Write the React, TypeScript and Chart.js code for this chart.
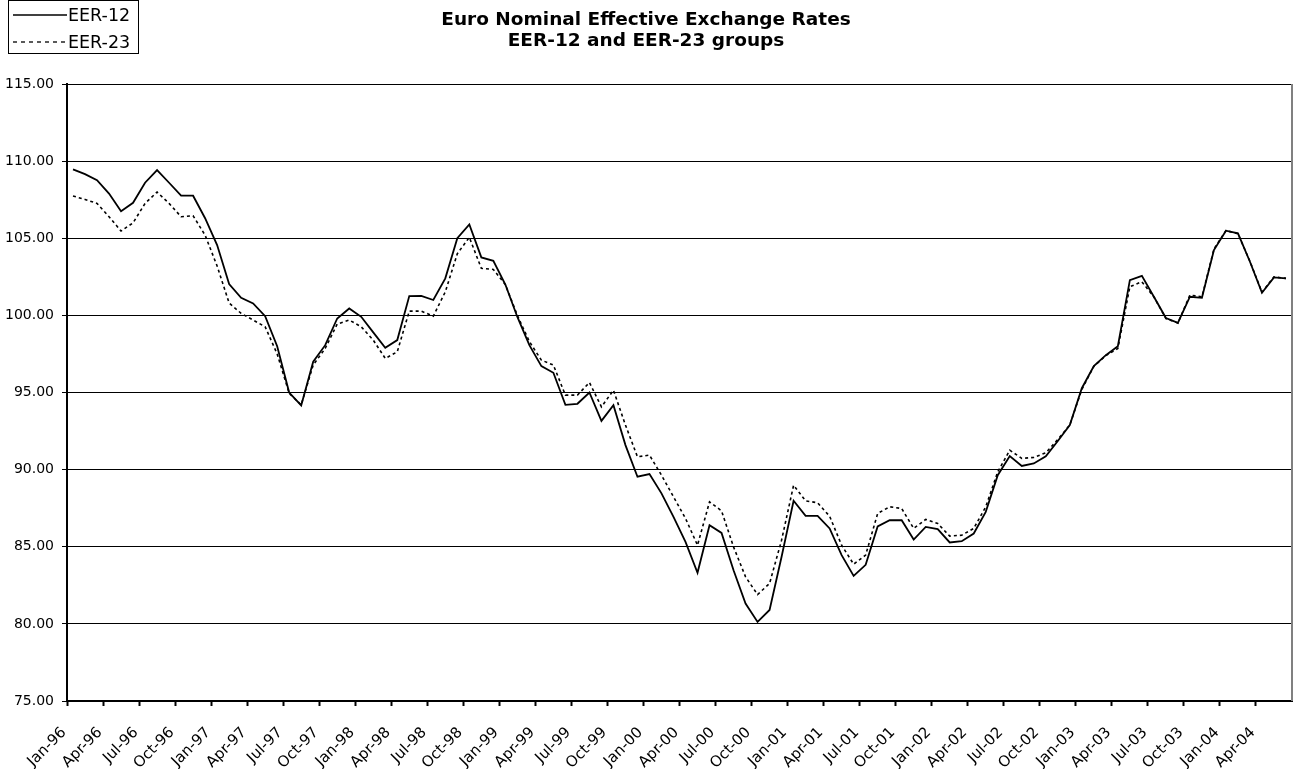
import React, { useEffect, useRef } from 'react';
import { Chart, registerables } from 'chart.js';

Chart.register(...registerables);

const categories: string[] = [
  'Jan-96', 'Feb-96', 'Mar-96', 'Apr-96', 'May-96', 'Jun-96', 'Jul-96', 'Aug-96', 'Sep-96', 'Oct-96', 'Nov-96', 'Dec-96',
  'Jan-97', 'Feb-97', 'Mar-97', 'Apr-97', 'May-97', 'Jun-97', 'Jul-97', 'Aug-97', 'Sep-97', 'Oct-97', 'Nov-97', 'Dec-97',
  'Jan-98', 'Feb-98', 'Mar-98', 'Apr-98', 'May-98', 'Jun-98', 'Jul-98', 'Aug-98', 'Sep-98', 'Oct-98', 'Nov-98', 'Dec-98',
  'Jan-99', 'Feb-99', 'Mar-99', 'Apr-99', 'May-99', 'Jun-99', 'Jul-99', 'Aug-99', 'Sep-99', 'Oct-99', 'Nov-99', 'Dec-99',
  'Jan-00', 'Feb-00', 'Mar-00', 'Apr-00', 'May-00', 'Jun-00', 'Jul-00', 'Aug-00', 'Sep-00', 'Oct-00', 'Nov-00', 'Dec-00',
  'Jan-01', 'Feb-01', 'Mar-01', 'Apr-01', 'May-01', 'Jun-01', 'Jul-01', 'Aug-01', 'Sep-01', 'Oct-01', 'Nov-01', 'Dec-01',
  'Jan-02', 'Feb-02', 'Mar-02', 'Apr-02', 'May-02', 'Jun-02', 'Jul-02', 'Aug-02', 'Sep-02', 'Oct-02', 'Nov-02', 'Dec-02',
  'Jan-03', 'Feb-03', 'Mar-03', 'Apr-03', 'May-03', 'Jun-03', 'Jul-03', 'Aug-03', 'Sep-03', 'Oct-03', 'Nov-03', 'Dec-03',
  'Jan-04', 'Feb-04', 'Mar-04', 'Apr-04', 'May-04', 'Jun-04',
];

const eer12: number[] = [
  109.47, 109.16, 108.77, 107.9, 106.76, 107.3, 108.6, 109.42, 108.6, 107.76, 107.76, 106.3,
  104.56, 102.03, 101.14, 100.78, 99.95, 98.0, 95.0, 94.16, 97.0, 98.07, 99.8, 100.45,
  99.91, 98.9, 97.9, 98.4, 101.25, 101.27, 101.0, 102.4, 105.0, 105.9, 103.76, 103.54,
  102.0, 99.9, 98.07, 96.71, 96.28, 94.2, 94.27, 95.0, 93.16, 94.18, 91.59, 89.54,
  89.71, 88.46, 86.94, 85.32, 83.31, 86.4, 85.9, 83.48, 81.32, 80.13, 80.9, 84.35,
  87.98, 87.0, 87.0, 86.19, 84.46, 83.11, 83.83, 86.32, 86.72, 86.72, 85.47, 86.29,
  86.14, 85.28, 85.36, 85.86, 87.26, 89.64, 90.88, 90.24, 90.4, 90.86, 91.86, 92.89,
  95.28, 96.72, 97.42, 98.0, 102.29, 102.56, 101.21, 99.83, 99.52, 101.21, 101.14, 104.24,
  105.49, 105.32, 103.48, 101.47, 102.46, 102.4,
];

const eer23: number[] = [
  107.74, 107.52, 107.26, 106.4, 105.47, 106.0, 107.26, 108.0, 107.26, 106.4, 106.46, 105.2,
  103.2, 100.8, 100.13, 99.7, 99.26, 97.5, 94.95, 94.2, 96.78, 97.86, 99.44, 99.7,
  99.26, 98.4, 97.21, 97.64, 100.28, 100.28, 99.95, 101.53, 104.0, 105.06, 103.05, 102.98,
  102.0, 100.0, 98.3, 97.1, 96.78, 94.83, 94.83, 95.65, 94.07, 95.15, 92.89, 90.83,
  90.94, 89.64, 88.24, 86.84, 85.1, 87.91, 87.33, 84.99, 83.05, 81.9, 82.62, 85.43,
  88.99, 87.98, 87.85, 86.98, 85.1, 83.87, 84.46, 87.16, 87.59, 87.48, 86.19, 86.77,
  86.51, 85.69, 85.75, 86.19, 87.59, 89.86, 91.26, 90.73, 90.79, 91.09, 91.95, 92.9,
  95.2, 96.7, 97.4, 97.86, 101.86, 102.18, 101.2, 99.8, 99.5, 101.32, 101.2, 104.3,
  105.5, 105.3, 103.5, 101.5, 102.5, 102.4,
];

const seriesNames: string[] = ['EER-12', 'EER-23'];
const titleLines: string[] = ['Euro Nominal Effective Exchange Rates', 'EER-12 and EER-23 groups'];
const yMin = 75;
const yMax = 115;
const yStep = 5;
const labelEvery = 3;

const FONT = "'DejaVu Sans', 'Liberation Sans', Arial, sans-serif";

const boxLegend = {
  id: 'boxLegend',
  afterDraw(chart: any) {
    const ctx = chart.ctx;
    ctx.save();
    ctx.strokeStyle = '#000';
    ctx.lineWidth = 1;
    ctx.strokeRect(8.5, 0.5, 130, 53);
    const rows = [15, 42];
    chart.data.datasets.forEach((ds: any, i: number) => {
      const y = rows[i];
      ctx.beginPath();
      ctx.lineWidth = 1.3;
      ctx.strokeStyle = '#000';
      ctx.setLineDash(ds.borderDash && ds.borderDash.length ? [4, 4] : []);
      ctx.moveTo(13, y);
      ctx.lineTo(67, y);
      ctx.stroke();
      ctx.setLineDash([]);
      ctx.fillStyle = '#000';
      ctx.font = `17.5px ${FONT}`;
      ctx.textBaseline = 'middle';
      ctx.textAlign = 'left';
      ctx.fillText(ds.label, 68, y + 1);
    });
    ctx.restore();
  },
};

const rightBorder = {
  id: 'rightBorder',
  afterDraw(chart: any) {
    const { ctx, chartArea } = chart;
    ctx.save();
    ctx.strokeStyle = '#808080';
    ctx.lineWidth = 2;
    ctx.beginPath();
    ctx.moveTo(chartArea.right, chartArea.top);
    ctx.lineTo(chartArea.right, chartArea.bottom);
    ctx.stroke();
    ctx.restore();
  },
};

export default function App() {
  const canvasRef = useRef<HTMLCanvasElement | null>(null);

  useEffect(() => {
    document.body.style.margin = '0';
    const canvas = canvasRef.current;
    if (!canvas) return;
    const chart = new Chart(canvas, {
      type: 'line',
      data: {
        labels: categories,
        datasets: [
          {
            label: seriesNames[0],
            data: eer12,
            borderColor: '#000',
            borderWidth: 1.8,
            pointRadius: 0,
            tension: 0,
            fill: false,
          },
          {
            label: seriesNames[1],
            data: eer23,
            borderColor: '#000',
            borderWidth: 1.6,
            borderDash: [3, 3],
            pointRadius: 0,
            tension: 0,
            fill: false,
          },
        ],
      },
      options: {
        animation: false,
        responsive: true,
        maintainAspectRatio: false,
        layout: { padding: { left: 0, right: 1, top: 0, bottom: 0 } },
        plugins: {
          legend: { display: false },
          tooltip: { enabled: false },
          title: {
            display: true,
            text: titleLines,
            color: '#000',
            font: { family: FONT, size: 18.5, weight: 'bold', lineHeight: 1.12 },
            padding: { top: 10, bottom: 32.6 },
          },
        },
        scales: {
          x: {
            type: 'category',
            offset: true,
            grid: {
              display: true,
              drawOnChartArea: false,
              drawTicks: true,
              offset: true,
              tickLength: 5,
              tickWidth: 2,
              tickColor: (c: any) => (c.index % labelEvery === 0 && c.index < categories.length ? '#000' : 'rgba(0,0,0,0)'),
            },
            border: { display: true, color: '#000', width: 2 },
            ticks: {
              autoSkip: false,
              maxRotation: 45,
              minRotation: 45,
              padding: 18,
              labelOffset: -9,
              color: '#000',
              font: { family: FONT, size: 15 },
              callback: function (this: any, value: any, index: number) {
                return index % labelEvery === 0 ? this.getLabelForValue(value) : '';
              },
            },
            afterFit: (scale: any) => {
              scale.height = 68;
              scale.paddingRight = 0;
              scale.paddingLeft = 0;
            },
          },
          y: {
            type: 'linear',
            min: yMin,
            max: yMax,
            grid: {
              display: true,
              drawOnChartArea: true,
              drawTicks: true,
              tickLength: 5,
              color: '#000',
              lineWidth: 1,
              tickColor: '#000',
            },
            border: { display: true, color: '#000', width: 2 },
            ticks: {
              stepSize: yStep,
              padding: 8,
              color: '#000',
              font: { family: FONT, size: 14 },
              callback: (v: any) => Number(v).toFixed(2),
            },
            afterFit: (scale: any) => {
              scale.width = 67;
            },
          },
        },
      },
      plugins: [boxLegend, rightBorder],
    });
    return () => {
      chart.destroy();
    };
  }, []);

  return (
    <div style={{ width: '1293px', height: '769px', position: 'relative', overflow: 'hidden', background: '#fff' }}>
      <canvas ref={canvasRef} />
    </div>
  );
}
